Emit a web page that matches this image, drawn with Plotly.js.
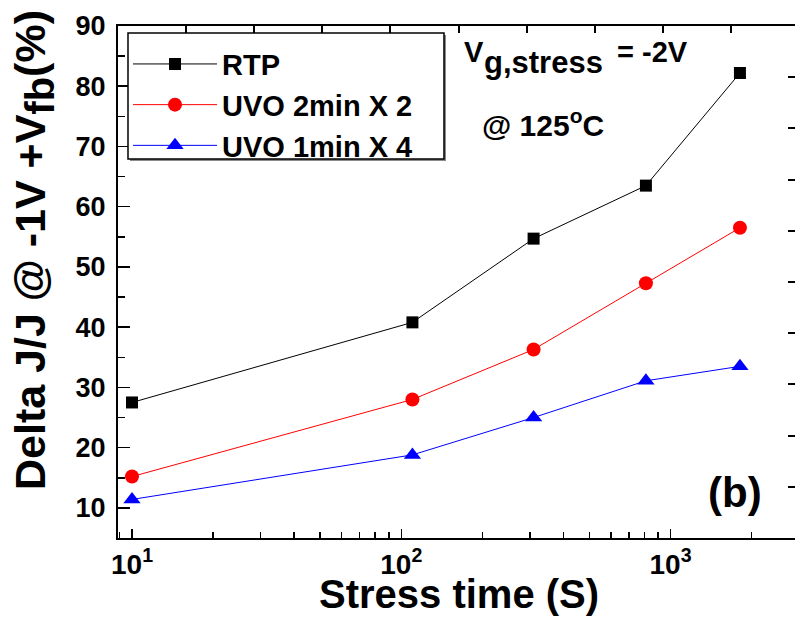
<!DOCTYPE html>
<html>
<head>
<meta charset="utf-8">
<script src="https://cdn.plot.ly/plotly-3.0.1.min.js"></script>
<style>
html, body { margin: 0; padding: 0; overflow: hidden; background: #fff; }
#chart { width: 805px; height: 622px; }
</style>
</head>
<body>
<div id="chart"></div>
<script>
// Data
var stressTime = [10, 110, 310, 810, 1810];
var rtp = [27.5, 40.8, 54.7, 63.5, 82.2];
var uvo2x2 = [15.2, 28.0, 36.3, 47.3, 56.5];
var uvo1x4 = [11.4, 18.8, 25.0, 31.1, 33.5];
var seriesNames = ['RTP', 'UVO 2min X 2', 'UVO 1min X 4'];
var xTickVals = [10, 100, 1000];
var xTickText = ['10<sup>1</sup>', '10<sup>2</sup>', '10<sup>3</sup>'];
var yTickVals = [10, 20, 30, 40, 50, 60, 70, 80, 90];

var FONT = 'Liberation Sans, Arial, Helvetica, sans-serif';

var traces = [
  {x: stressTime, y: rtp, name: seriesNames[0], type: 'scatter', mode: 'lines+markers',
   line: {color: '#000000', width: 1}, marker: {symbol: 'square', size: 12, color: '#000000'}},
  {x: stressTime, y: uvo2x2, name: seriesNames[1], type: 'scatter', mode: 'lines+markers',
   line: {color: '#ff0000', width: 1}, marker: {symbol: 'circle', size: 14, color: '#ff0000'}},
  {x: stressTime, y: uvo1x4, name: seriesNames[2], type: 'scatter', mode: 'lines+markers',
   line: {color: '#0000ff', width: 1}, marker: {symbol: 'triangle-up', size: 15, color: '#0000ff'}},
  // empty helper traces so that the mirrored top and right tick axes are drawn
  {x: [], y: [], xaxis: 'x2', yaxis: 'y', type: 'scatter', mode: 'markers', showlegend: false, hoverinfo: 'skip'},
  {x: [], y: [], xaxis: 'x', yaxis: 'y2', type: 'scatter', mode: 'markers', showlegend: false, hoverinfo: 'skip'}
];

var layout = {
  width: 805, height: 622,
  margin: {l: 118, r: 6, t: 26, b: 84, pad: 0},
  paper_bgcolor: '#ffffff', plot_bgcolor: '#ffffff',
  font: {family: FONT, color: '#000000', weight: 'bold'},
  showlegend: true,
  legend: {
    x: 0.0147, y: 0.9754, xanchor: 'left', yanchor: 'top',
    bgcolor: 'rgba(0,0,0,0)', borderwidth: 0,
    font: {family: FONT, size: 29, color: '#000000', weight: 'bold'},
    itemwidth: 84, tracegroupgap: 0
  },
  // legend frame with its thin grey drop shadow
  shapes: [
    {type: 'rect', xref: 'paper', yref: 'paper', layer: 'above',
     x0: 0.01762, x1: 0.48164, y0: 0.73633, y1: 0.98242,
     fillcolor: '#8a8a8a', line: {width: 0}},
    {type: 'rect', xref: 'paper', yref: 'paper', layer: 'above',
     x0: 0.01468, x1: 0.4787, y0: 0.74023, y1: 0.98633,
     fillcolor: '#ffffff', line: {color: '#000000', width: 1.5}}
  ],
  xaxis: {
    type: 'log', range: [0.948, 3.477],
    tickvals: xTickVals, ticktext: xTickText,
    ticks: 'inside', ticklen: 9, tickwidth: 1.5, tickcolor: '#000',
    minor: {ticks: 'inside', ticklen: 6, tickwidth: 1.5, tickcolor: '#000', dtick: 'D1', showgrid: false},
    showline: true, linewidth: 2, linecolor: '#000',
    showgrid: false, zeroline: false,
    tickfont: {family: FONT, size: 28, color: '#000', weight: 'bold'},
    automargin: false
  },
  yaxis: {
    range: [5, 90], tickvals: yTickVals,
    ticks: 'inside', ticklen: 12, tickwidth: 1.5, tickcolor: '#000',
    minor: {ticks: 'inside', ticklen: 7, tickwidth: 1.5, tickcolor: '#000', dtick: 5, tick0: 5, showgrid: false},
    showline: true, linewidth: 2, linecolor: '#000',
    showgrid: false, zeroline: false, ticklabelstandoff: 5,
    tickfont: {family: FONT, size: 27, color: '#000', weight: 'bold'},
    automargin: false
  },
  xaxis2: {
    overlaying: 'x', anchor: 'y', side: 'top', range: [0, 10], dtick: 1, tick0: 0,
    ticks: 'inside', ticklen: 7, tickwidth: 2, tickcolor: '#000',
    showticklabels: false, showline: true, linewidth: 2, linecolor: '#000',
    showgrid: false, zeroline: false, fixedrange: true
  },
  yaxis2: {
    overlaying: 'y', anchor: 'x', side: 'right', range: [0, 10], dtick: 1, tick0: 0,
    ticks: 'inside', ticklen: 11, tickwidth: 2, tickcolor: '#000',
    showticklabels: false, showline: true, linewidth: 2, linecolor: '#000',
    showgrid: false, zeroline: false, fixedrange: true
  },
  annotations: [
    {text: 'Delta J/J @ -1V +V<sub><span style="font-size:40px">fb</span></sub>(%)', xref: 'paper', yref: 'paper',
     x: -0.1233, y: 0.5625, xanchor: 'center', yanchor: 'middle', textangle: -90, showarrow: false,
     font: {family: FONT, size: 43, color: '#000', weight: 'bold'}},
    {text: 'Stress time (S)', xref: 'paper', yref: 'paper',
     x: 0.5, y: -0.1100, xanchor: 'center', yanchor: 'middle', showarrow: false,
     font: {family: FONT, size: 40, color: '#000', weight: 'bold'}},
    {text: 'V', xref: 'paper', yref: 'paper', x: 0.5051, y: 0.9492, xanchor: 'left', yanchor: 'middle',
     showarrow: false, font: {family: FONT, size: 29, color: '#000', weight: 'bold'}},
    {text: 'g,stress', xref: 'paper', yref: 'paper', x: 0.5345, y: 0.9285, xanchor: 'left', yanchor: 'middle',
     showarrow: false, font: {family: FONT, size: 31, color: '#000', weight: 'bold'}},
    {text: '= -2V', xref: 'paper', yref: 'paper', x: 0.7298, y: 0.9492, xanchor: 'left', yanchor: 'middle',
     showarrow: false, font: {family: FONT, size: 29, color: '#000', weight: 'bold'}},
    {text: '@ 125<sup>o</sup>C', xref: 'paper', yref: 'paper', x: 0.5316, y: 0.8105, xanchor: 'left', yanchor: 'middle',
     showarrow: false, font: {family: FONT, size: 30, color: '#000', weight: 'bold'}},
    {text: '(b)', xref: 'paper', yref: 'paper', x: 0.906, y: 0.0898, xanchor: 'center', yanchor: 'middle',
     showarrow: false, font: {family: FONT, size: 42, color: '#000', weight: 'bold'}}
  ]
};

Plotly.newPlot('chart', traces, layout, {displayModeBar: false, staticPlot: true});
</script>
</body>
</html>
